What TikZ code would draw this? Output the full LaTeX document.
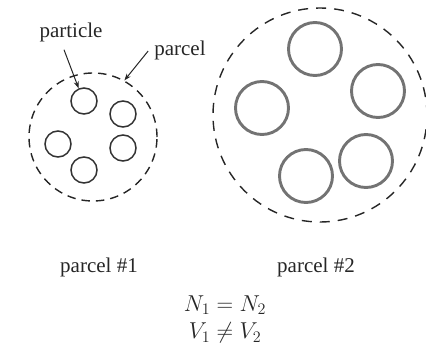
\documentclass[tikz,border=0pt]{standalone}
\usepackage{fix-cm}
\usepackage{fontspec}
\setmainfont{Liberation Serif}
\usetikzlibrary{arrows.meta}
\begin{document}
\begin{tikzpicture}[x=1pt,y=-1pt,
  lbl/.style={font=\fontsize{21}{25}\selectfont, inner sep=0pt, text=black!85},
  eqn/.style={font=\fontsize{23}{27}\selectfont, inner sep=0pt, text=black!85},
  smallp/.style={circle, draw=black!80, line width=1.5pt, minimum size=26pt, inner sep=0pt},
  bigp/.style={circle, draw=black!55, line width=2.9pt, minimum size=53pt, inner sep=0pt},
  parcelA/.style={circle, draw=black!85, line width=1.4pt, dash pattern=on 8.5pt off 6pt, minimum size=128pt, inner sep=0pt},
  parcelB/.style={circle, draw=black!85, line width=1.4pt, dash pattern=on 10pt off 8pt, minimum size=214pt, inner sep=0pt},
  arr/.style={-{Stealth[length=7pt,width=5pt]}, line width=1pt, draw=black!85}]
\useasboundingbox (0,0) rectangle (426,345);
% parcel 1
\node[parcelA] (pc1) at (93,137) {};
\node[smallp] (p1) at (84,101) {};
\node[smallp] (p2) at (123,114) {};
\node[smallp] (p3) at (58,144) {};
\node[smallp] (p4) at (123,148) {};
\node[smallp] (p5) at (84,170) {};
% parcel 2
\node[parcelB] (pc2) at (320,115) {};
\node[bigp] (q1) at (315,49) {};
\node[bigp] (q2) at (378,91) {};
\node[bigp] (q3) at (262,108) {};
\node[bigp] (q4) at (366,161) {};
\node[bigp] (q5) at (306,176) {};
% labels
\node[lbl] (plab) at (71,32) {particle};
\node[lbl] (clab) at (180,50) {parcel};
\draw[arr] ([xshift=-7pt,yshift=-8pt]plab.south) -- (p1.113);
\draw[arr] ([xshift=-6pt,yshift=-1pt]clab.west) -- (pc1.61);
\node[lbl] (l1) at (99,267) {parcel \#1};
\node[lbl] (l2) at (316,267) {parcel \#2};
\node[eqn] (e1) at (225,305) {$N_1 = N_2$};
\node[eqn] (e2) at (225,333) {$V_1 \neq V_2$};
\end{tikzpicture}
\end{document}
